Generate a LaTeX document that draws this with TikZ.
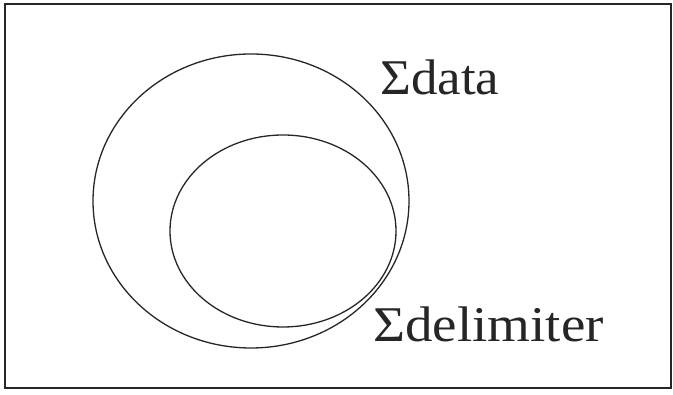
\documentclass[tikz,border=0pt]{standalone}
\usepackage{fontspec}
\setmainfont{Liberation Serif}
\begin{document}
\begin{tikzpicture}[x=1pt,y=1pt,
  ln/.style={line width=1.3pt,draw=black!85},
  lbl/.style={inner sep=0pt,anchor=base west,font=\fontsize{50}{55}\selectfont,text=black!85}]
\useasboundingbox (0,0) rectangle (673,395);
\draw[ln] (5,7) rectangle (671,391);
\draw[ln] (251,194) ellipse [x radius=158, y radius=147];
\draw[ln] (283,164) ellipse [x radius=113, y radius=96];
\node[lbl] (data) at (380,300) {\scalebox{1.06}[1]{Σdata}};
\node[lbl] (delim) at (373,53) {\scalebox{1.1}[1]{Σdelimiter}};
\end{tikzpicture}
\end{document}
